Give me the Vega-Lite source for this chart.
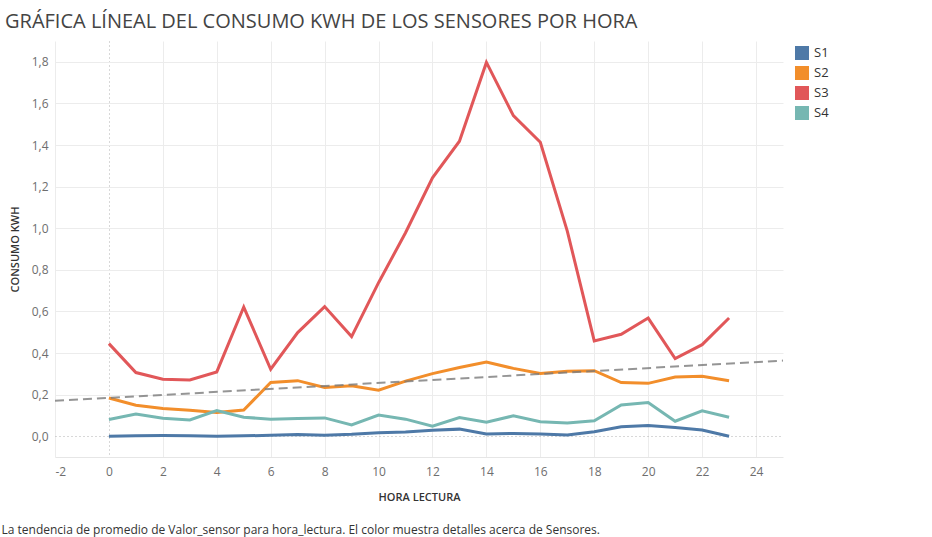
{
  "$schema": "https://vega.github.io/schema/vega-lite/v6.json",
  "width": 728,
  "height": 416,
  "autosize": {"type": "none"},
  "padding": {"left": 55, "top": 41, "right": 149, "bottom": 80},
  "background": "white",
  "title": {
    "text": "GRÁFICA LÍNEAL DEL CONSUMO KWH DE LOS SENSORES POR HORA",
    "anchor": "start",
    "frame": "group",
    "dx": -50,
    "dy": 20,
    "offset": 13,
    "baseline": "alphabetic",
    "fontSize": 20,
    "fontWeight": "normal",
    "font": "Open Sans",
    "color": "#444444"
  },
  "config": {
    "locale": {"number": {"decimal": ",", "thousands": ".", "grouping": [3], "currency": ["", " €"], "minus": "-"}},
    "view": {"stroke": null},
    "font": "Open Sans"
  },
  "data": {
    "values": [
      {"h":0,"s":"S1","v":0.000},{"h":1,"s":"S1","v":0.002},{"h":2,"s":"S1","v":0.003},{"h":3,"s":"S1","v":0.002},
      {"h":4,"s":"S1","v":0.000},{"h":5,"s":"S1","v":0.002},{"h":6,"s":"S1","v":0.004},{"h":7,"s":"S1","v":0.008},
      {"h":8,"s":"S1","v":0.004},{"h":9,"s":"S1","v":0.009},{"h":10,"s":"S1","v":0.017},{"h":11,"s":"S1","v":0.020},
      {"h":12,"s":"S1","v":0.029},{"h":13,"s":"S1","v":0.034},{"h":14,"s":"S1","v":0.011},{"h":15,"s":"S1","v":0.013},
      {"h":16,"s":"S1","v":0.011},{"h":17,"s":"S1","v":0.006},{"h":18,"s":"S1","v":0.021},{"h":19,"s":"S1","v":0.045},
      {"h":20,"s":"S1","v":0.051},{"h":21,"s":"S1","v":0.042},{"h":22,"s":"S1","v":0.030},{"h":23,"s":"S1","v":0.000},
      {"h":0,"s":"S2","v":0.184},{"h":1,"s":"S2","v":0.149},{"h":2,"s":"S2","v":0.133},{"h":3,"s":"S2","v":0.125},
      {"h":4,"s":"S2","v":0.114},{"h":5,"s":"S2","v":0.126},{"h":6,"s":"S2","v":0.258},{"h":7,"s":"S2","v":0.267},
      {"h":8,"s":"S2","v":0.234},{"h":9,"s":"S2","v":0.242},{"h":10,"s":"S2","v":0.221},{"h":11,"s":"S2","v":0.265},
      {"h":12,"s":"S2","v":0.301},{"h":13,"s":"S2","v":0.330},{"h":14,"s":"S2","v":0.357},{"h":15,"s":"S2","v":0.326},
      {"h":16,"s":"S2","v":0.302},{"h":17,"s":"S2","v":0.312},{"h":18,"s":"S2","v":0.315},{"h":19,"s":"S2","v":0.258},
      {"h":20,"s":"S2","v":0.254},{"h":21,"s":"S2","v":0.285},{"h":22,"s":"S2","v":0.288},{"h":23,"s":"S2","v":0.267},
      {"h":0,"s":"S3","v":0.445},{"h":1,"s":"S3","v":0.306},{"h":2,"s":"S3","v":0.274},{"h":3,"s":"S3","v":0.270},
      {"h":4,"s":"S3","v":0.309},{"h":5,"s":"S3","v":0.621},{"h":6,"s":"S3","v":0.322},{"h":7,"s":"S3","v":0.498},
      {"h":8,"s":"S3","v":0.623},{"h":9,"s":"S3","v":0.479},{"h":10,"s":"S3","v":0.738},{"h":11,"s":"S3","v":0.978},
      {"h":12,"s":"S3","v":1.242},{"h":13,"s":"S3","v":1.418},{"h":14,"s":"S3","v":1.797},{"h":15,"s":"S3","v":1.541},
      {"h":16,"s":"S3","v":1.413},{"h":17,"s":"S3","v":0.986},{"h":18,"s":"S3","v":0.458},{"h":19,"s":"S3","v":0.490},
      {"h":20,"s":"S3","v":0.568},{"h":21,"s":"S3","v":0.373},{"h":22,"s":"S3","v":0.440},{"h":23,"s":"S3","v":0.568},
      {"h":0,"s":"S4","v":0.080},{"h":1,"s":"S4","v":0.107},{"h":2,"s":"S4","v":0.086},{"h":3,"s":"S4","v":0.078},
      {"h":4,"s":"S4","v":0.123},{"h":5,"s":"S4","v":0.091},{"h":6,"s":"S4","v":0.082},{"h":7,"s":"S4","v":0.085},
      {"h":8,"s":"S4","v":0.088},{"h":9,"s":"S4","v":0.054},{"h":10,"s":"S4","v":0.102},{"h":11,"s":"S4","v":0.082},
      {"h":12,"s":"S4","v":0.048},{"h":13,"s":"S4","v":0.090},{"h":14,"s":"S4","v":0.067},{"h":15,"s":"S4","v":0.098},
      {"h":16,"s":"S4","v":0.070},{"h":17,"s":"S4","v":0.064},{"h":18,"s":"S4","v":0.074},{"h":19,"s":"S4","v":0.150},
      {"h":20,"s":"S4","v":0.162},{"h":21,"s":"S4","v":0.072},{"h":22,"s":"S4","v":0.122},{"h":23,"s":"S4","v":0.091}
    ]
  },
  "resolve": {"axis": {"x": "independent"}},
  "layer": [
    {
      "mark": {"type": "line", "strokeWidth": 3},
      "encoding": {
        "x": {
          "field": "h", "type": "quantitative",
          "scale": {"domain": [-2, 25], "nice": false, "zero": false},
          "axis": {
            "values": [-2, 0, 2, 4, 6, 8, 10, 12, 14, 16, 18, 20, 22, 24],
            "format": "d",
            "title": "HORA LECTURA",
            "titleX": 364, "titleY": 40, "titleBaseline": "middle",
            "titleFontSize": 11, "titleFontWeight": 600, "titleColor": "#333333",
            "labelColor": "#6e6e6e", "labelFontSize": 12, "labelPadding": 9,
            "ticks": false,
            "domainColor": "#e6e6e6",
            "grid": true,
            "gridColor": {"condition": {"test": "datum.value === 0", "value": "#b0b0b0"}, "value": "#ececec"},
            "gridDash": {"condition": {"test": "datum.value === 0", "value": [1, 3]}, "value": []}
          }
        },
        "y": {
          "field": "v", "type": "quantitative",
          "scale": {"domain": [-0.1, 1.9], "nice": false, "zero": false},
          "axis": {
            "values": [0, 0.2, 0.4, 0.6, 0.8, 1.0, 1.2, 1.4, 1.6, 1.8],
            "format": ".1f",
            "title": "CONSUMO KWH",
            "titleX": -40, "titleY": 208, "titleBaseline": "middle", "titleAngle": -90,
            "titleFontSize": 11, "titleFontWeight": 600, "titleColor": "#333333",
            "labelColor": "#6e6e6e", "labelFontSize": 12, "labelPadding": 7,
            "ticks": false,
            "domain": false,
            "grid": true,
            "gridColor": {"condition": {"test": "datum.value === 0", "value": "#b0b0b0"}, "value": "#ececec"},
            "gridDash": {"condition": {"test": "datum.value === 0", "value": [1, 3]}, "value": []}
          }
        },
        "color": {
          "field": "s", "type": "nominal",
          "scale": {"domain": ["S1", "S2", "S3", "S4"], "range": ["#4e79a7", "#f28e2b", "#e15759", "#76b7b2"]},
          "legend": {
            "title": null,
            "orient": "none",
            "legendX": 740,
            "legendY": 5,
            "symbolType": "square",
            "symbolSize": 196,
            "symbolStrokeWidth": 0,
            "labelFontSize": 13,
            "labelColor": "#333333",
            "labelOffset": 5,
            "rowPadding": 6,
            "encode": {"symbols": {"update": {"fill": {"scale": "color", "field": "value"}, "strokeWidth": {"value": 0}}}}
          }
        }
      }
    },
    {
      "transform": [{"regression": "v", "on": "h", "extent": [-2, 25]}],
      "mark": {"type": "line", "strokeWidth": 2, "strokeDash": [9, 5], "color": "#7a7a7a", "opacity": 0.8},
      "encoding": {
        "x": {
          "field": "h", "type": "quantitative",
          "axis": {
            "orient": "top",
            "title": "La tendencia de promedio de Valor_sensor para hora_lectura.  El color muestra detalles acerca de Sensores.",
            "labels": false, "ticks": false, "domain": false, "grid": false,
            "titleX": -54, "titleY": 492, "titleAlign": "left", "titleAnchor": "start",
            "titleBaseline": "alphabetic", "titleAngle": 0,
            "titleFontSize": 12, "titleFontWeight": "normal", "titleColor": "#333333"
          }
        },
        "y": {"field": "v", "type": "quantitative"}
      }
    }
  ]
}
